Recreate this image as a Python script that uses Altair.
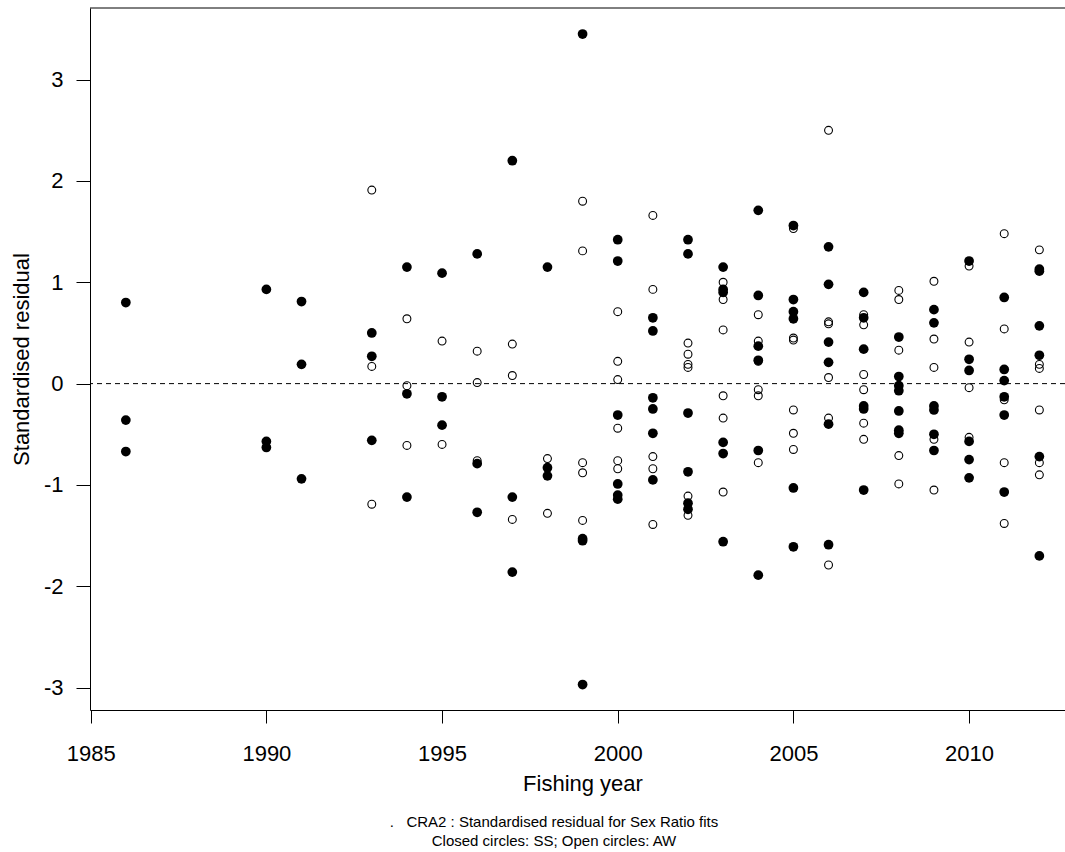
import altair as alt
import pandas as pd

# Closed circles: SS
ss_year = (
    [1986] * 3 + [1990] * 3 + [1991] * 3 + [1993] * 3 + [1994] * 3 + [1995] * 3
    + [1996] * 3 + [1997] * 3 + [1998] * 3 + [1999] * 4 + [2000] * 6 + [2001] * 6
    + [2002] * 6 + [2003] * 6 + [2004] * 6 + [2005] * 6 + [2006] * 6 + [2007] * 6
    + [2008] * 7 + [2009] * 6 + [2010] * 6 + [2011] * 6 + [2012] * 6
)
ss_resid = [
    0.80, -0.36, -0.67,
    0.93, -0.57, -0.63,
    0.81, 0.19, -0.94,
    0.50, 0.27, -0.56,
    1.15, -0.10, -1.12,
    1.09, -0.13, -0.41,
    1.28, -0.79, -1.27,
    2.20, -1.12, -1.86,
    1.15, -0.83, -0.91,
    3.45, -1.53, -1.55, -2.97,
    1.42, 1.21, -0.31, -0.99, -1.10, -1.14,
    0.65, 0.52, -0.14, -0.25, -0.49, -0.95,
    1.42, 1.28, -0.29, -0.87, -1.18, -1.24,
    1.15, 0.93, 0.90, -0.58, -0.69, -1.56,
    1.71, 0.87, 0.37, 0.23, -0.66, -1.89,
    1.56, 0.83, 0.71, 0.64, -1.03, -1.61,
    1.35, 0.98, 0.41, 0.21, -0.40, -1.59,
    0.90, 0.65, 0.34, -0.22, -0.25, -1.05,
    0.46, 0.07, -0.02, -0.07, -0.27, -0.46, -0.49,
    0.73, 0.60, -0.22, -0.26, -0.50, -0.66,
    1.21, 0.24, 0.13, -0.57, -0.75, -0.93,
    0.85, 0.14, 0.03, -0.13, -0.31, -1.07,
    1.13, 1.11, 0.57, 0.28, -0.72, -1.70,
]

# Open circles: AW
aw_year = (
    [1993] * 3 + [1994] * 3 + [1995] * 2 + [1996] * 3 + [1997] * 3 + [1998] * 2
    + [1999] * 5 + [2000] * 6 + [2001] * 5 + [2002] * 6 + [2003] * 6 + [2004] * 6
    + [2005] * 6 + [2006] * 6 + [2007] * 6 + [2008] * 5 + [2009] * 5 + [2010] * 4
    + [2011] * 5 + [2012] * 6
)
aw_resid = [
    1.91, 0.17, -1.19,
    0.64, -0.02, -0.61,
    0.42, -0.60,
    0.32, 0.01, -0.76,
    0.39, 0.08, -1.34,
    -0.74, -1.28,
    1.80, 1.31, -0.78, -0.88, -1.35,
    0.71, 0.22, 0.04, -0.44, -0.76, -0.84,
    1.66, 0.93, -0.72, -0.84, -1.39,
    0.40, 0.29, 0.19, 0.16, -1.11, -1.30,
    1.00, 0.83, 0.53, -0.12, -0.34, -1.07,
    0.68, 0.42, 0.22, -0.06, -0.12, -0.78,
    1.53, 0.45, 0.43, -0.26, -0.49, -0.65,
    2.50, 0.61, 0.59, 0.06, -0.34, -1.79,
    0.68, 0.58, 0.09, -0.06, -0.39, -0.55,
    0.92, 0.83, 0.33, -0.71, -0.99,
    1.01, 0.44, 0.16, -0.55, -1.05,
    1.16, 0.41, -0.04, -0.53,
    1.48, 0.54, -0.16, -0.78, -1.38,
    1.32, 0.19, 0.15, -0.26, -0.78, -0.90,
]

x_ticks = [1985, 1990, 1995, 2000, 2005, 2010]
y_ticks = [-3, -2, -1, 0, 1, 2, 3]
x_domain = [1984.98, 2012.73]
y_domain = [-3.221, 3.707]
caption_1 = ".\u00a0\u00a0\u00a0CRA2 : Standardised residual for Sex Ratio fits"
caption_2 = "Closed circles: SS; Open circles: AW"

FONT = "Liberation Sans"
W, H = 975, 702

ss_df = pd.DataFrame({"year": ss_year, "resid": ss_resid})
aw_df = pd.DataFrame({"year": aw_year, "resid": aw_resid})

x_enc = alt.X(
    "year:Q",
    scale=alt.Scale(domain=x_domain, nice=False, zero=False),
    axis=alt.Axis(
        title="Fishing year", values=x_ticks, labelExpr="'' + datum.value", grid=False,
        tickSize=13, labelPadding=20, labelFontSize=22, titleFontSize=22,
        titleFontWeight="normal", titleX=492.5, titleY=80,
        titleBaseline="alphabetic", labelFont=FONT, titleFont=FONT,
        domainColor="#000", tickColor="#000", labelColor="#000",
        titleColor="#000", labelFlush=False, labelOverlap=False,
    ),
)
y_enc = alt.Y(
    "resid:Q",
    scale=alt.Scale(domain=y_domain, nice=False, zero=False),
    axis=alt.Axis(
        title="Standardised residual", values=y_ticks, labelExpr="'' + datum.value",
        grid=False,
        tickSize=14, labelPadding=13, labelFontSize=22, titleFontSize=22,
        titleFontWeight="normal", titleX=-62, titleY=351, titleAngle=270,
        titleBaseline="alphabetic", labelFont=FONT, titleFont=FONT,
        domainColor="#000", tickColor="#000", labelColor="#000",
        titleColor="#000", labelFlush=False, labelOverlap=False,
    ),
)

closed = alt.Chart(ss_df).mark_point(
    shape="circle", filled=True, size=95, color="#000", opacity=1
).encode(x=x_enc, y=y_enc)

opened = alt.Chart(aw_df).mark_point(
    shape="circle", filled=False, size=62, color="#000", strokeWidth=1.1, opacity=1
).encode(x="year:Q", y="resid:Q")

zero_line = alt.Chart(pd.DataFrame({"z": [0]})).mark_rule(
    color="#000", strokeWidth=1, strokeDash=[5, 4]
).encode(y="z:Q")

top_border = alt.Chart(pd.DataFrame({"z": [0]})).mark_rule(
    color="#000", strokeWidth=1
).encode(y=alt.value(0))

cap1 = alt.Chart(pd.DataFrame({"t": [caption_1]})).mark_text(
    font=FONT, fontSize=15, color="#000", align="center", baseline="alphabetic"
).encode(x=alt.value(464), y=alt.value(818.5), text="t:N")

cap2 = alt.Chart(pd.DataFrame({"t": [caption_2]})).mark_text(
    font=FONT, fontSize=15, color="#000", align="center", baseline="alphabetic"
).encode(x=alt.value(464), y=alt.value(837.5), text="t:N")

chart = alt.layer(zero_line, closed, opened, top_border, cap1, cap2).properties(
    width=W, height=H,
    autosize=alt.AutoSizeParams(type="none"),
    padding={"left": 90, "top": 8, "right": 0, "bottom": 142},
    background="#ffffff",
).configure_view(stroke=None)

chart.save("out.html", embed_options={"renderer": "svg", "actions": False})
